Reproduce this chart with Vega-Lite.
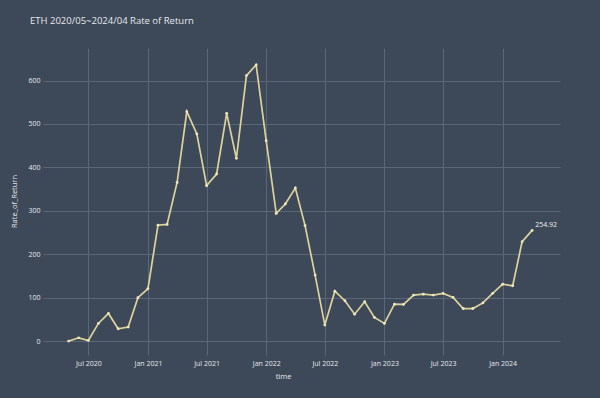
{
  "$schema": "https://vega.github.io/schema/vega-lite/v6.json",
  "width": 517,
  "height": 307,
  "autosize": "none",
  "padding": {"left": 43, "top": 48, "right": 40, "bottom": 43},
  "background": "#3d4859",
  "config": {"view": {"stroke": null}, "font": "Open Sans"},
  "title": {
    "text": "ETH 2020/05~2024/04 Rate of Return",
    "anchor": "start",
    "frame": "group",
    "dx": -13,
    "offset": 18,
    "baseline": "middle",
    "fontSize": 9.5,
    "fontWeight": "normal",
    "color": "#e6e8ec"
  },
  "data": {
    "values": [
      {"date": "2020-05-01", "Rate_of_Return": 0},
      {"date": "2020-06-01", "Rate_of_Return": 7.6},
      {"date": "2020-07-01", "Rate_of_Return": 1.5},
      {"date": "2020-08-01", "Rate_of_Return": 40.7},
      {"date": "2020-09-01", "Rate_of_Return": 63.7},
      {"date": "2020-10-01", "Rate_of_Return": 28.4},
      {"date": "2020-11-01", "Rate_of_Return": 32.3},
      {"date": "2020-12-01", "Rate_of_Return": 99.9},
      {"date": "2021-01-01", "Rate_of_Return": 120.6},
      {"date": "2021-02-01", "Rate_of_Return": 267},
      {"date": "2021-03-01", "Rate_of_Return": 268.8},
      {"date": "2021-04-01", "Rate_of_Return": 365.5},
      {"date": "2021-05-01", "Rate_of_Return": 528.4},
      {"date": "2021-06-01", "Rate_of_Return": 477},
      {"date": "2021-07-01", "Rate_of_Return": 358},
      {"date": "2021-08-01", "Rate_of_Return": 384.8},
      {"date": "2021-09-01", "Rate_of_Return": 524.6},
      {"date": "2021-10-01", "Rate_of_Return": 420.9},
      {"date": "2021-11-01", "Rate_of_Return": 611.4},
      {"date": "2021-12-01", "Rate_of_Return": 636},
      {"date": "2022-01-01", "Rate_of_Return": 461.6},
      {"date": "2022-02-01", "Rate_of_Return": 294},
      {"date": "2022-03-01", "Rate_of_Return": 315.7},
      {"date": "2022-04-01", "Rate_of_Return": 352.5},
      {"date": "2022-05-01", "Rate_of_Return": 266},
      {"date": "2022-06-01", "Rate_of_Return": 152},
      {"date": "2022-07-01", "Rate_of_Return": 36.9},
      {"date": "2022-08-01", "Rate_of_Return": 115},
      {"date": "2022-09-01", "Rate_of_Return": 93},
      {"date": "2022-10-01", "Rate_of_Return": 62},
      {"date": "2022-11-01", "Rate_of_Return": 90.6},
      {"date": "2022-12-01", "Rate_of_Return": 54.5},
      {"date": "2023-01-01", "Rate_of_Return": 40.7},
      {"date": "2023-02-01", "Rate_of_Return": 85},
      {"date": "2023-03-01", "Rate_of_Return": 84.5},
      {"date": "2023-04-01", "Rate_of_Return": 106},
      {"date": "2023-05-01", "Rate_of_Return": 108},
      {"date": "2023-06-01", "Rate_of_Return": 106},
      {"date": "2023-07-01", "Rate_of_Return": 110},
      {"date": "2023-08-01", "Rate_of_Return": 100.6},
      {"date": "2023-09-01", "Rate_of_Return": 75},
      {"date": "2023-10-01", "Rate_of_Return": 75},
      {"date": "2023-11-01", "Rate_of_Return": 88},
      {"date": "2023-12-01", "Rate_of_Return": 110},
      {"date": "2024-01-01", "Rate_of_Return": 131},
      {"date": "2024-02-01", "Rate_of_Return": 127.5},
      {"date": "2024-03-01", "Rate_of_Return": 228.8},
      {"date": "2024-04-01", "Rate_of_Return": 254.92}
    ]
  },
  "encoding": {
    "x": {
      "field": "date",
      "type": "temporal",
      "scale": {
        "type": "utc",
        "domain": [
          {"year": 2020, "month": 2, "date": 12, "utc": true},
          {"year": 2024, "month": 6, "date": 26, "utc": true}
        ],
        "nice": false
      },
      "axis": {
        "title": "time",
        "format": "%b %Y",
        "tickCount": {"interval": "month", "step": 6},
        "grid": true,
        "gridColor": "#5a6779",
        "gridWidth": 1,
        "domain": false,
        "ticks": false,
        "labelFontSize": 7,
        "labelColor": "#e6e8ec",
        "labelPadding": 4,
        "labelFlush": false,
        "titleFontSize": 7.5,
        "titleFontWeight": "normal",
        "titleColor": "#e6e8ec",
        "titleX": 240,
        "titleY": 21,
        "titleBaseline": "middle",
        "titleAlign": "center"
      }
    },
    "y": {
      "field": "Rate_of_Return",
      "type": "quantitative",
      "scale": {"domain": [-32, 675], "nice": false, "zero": false},
      "axis": {
        "title": "Rate_of_Return",
        "values": [0, 100, 200, 300, 400, 500, 600],
        "grid": true,
        "gridColor": "#5a6779",
        "gridWidth": 1,
        "domain": false,
        "ticks": false,
        "labelFontSize": 7,
        "labelColor": "#e6e8ec",
        "labelPadding": 3,
        "titleFontSize": 7.5,
        "titleFontWeight": "normal",
        "titleColor": "#e6e8ec",
        "titleX": -29,
        "titleY": 153,
        "titleAngle": -90,
        "titleBaseline": "middle",
        "titleAlign": "center"
      }
    }
  },
  "layer": [
    {
      "mark": {
        "type": "line",
        "color": "#dcd39c",
        "strokeWidth": 1.7,
        "point": {"filled": true, "size": 8, "color": "#efe7bb"}
      }
    },
    {
      "transform": [{"filter": "datum.Rate_of_Return == 254.92"}],
      "mark": {
        "type": "text",
        "align": "left",
        "baseline": "middle",
        "dx": 3,
        "dy": -5,
        "fontSize": 7,
        "color": "#f2f2f2"
      },
      "encoding": {
        "text": {"field": "Rate_of_Return", "type": "quantitative", "format": ".2f"}
      }
    }
  ]
}
